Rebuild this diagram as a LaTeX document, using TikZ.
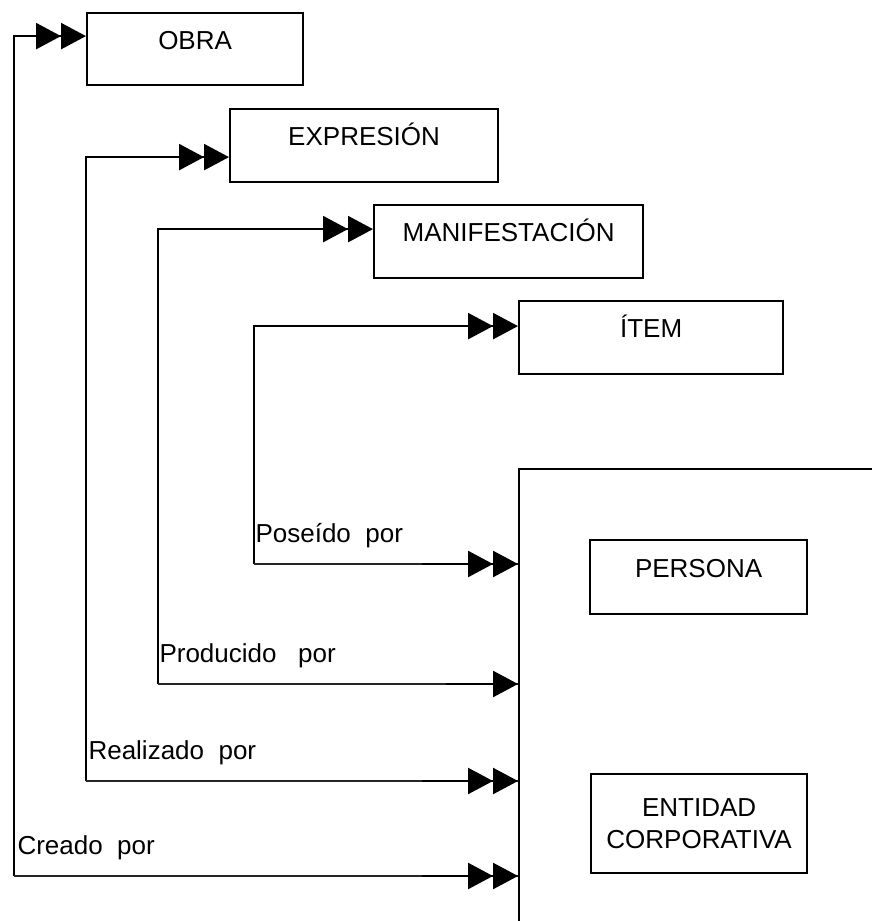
\documentclass[tikz,border=0pt]{standalone}
\usepackage{fontspec}
\setmainfont{Liberation Sans}
\usepackage{xcolor}
\usetikzlibrary{arrows.meta}

\begin{document}
\begin{tikzpicture}[x=1pt, y=-1pt, every node/.style={font=\fontsize{26}{32}\selectfont},
  box/.style={draw=black, line width=2.2pt, anchor=north west, inner sep=0pt, text height=0pt, text depth=0pt, minimum height=73pt},
  wire/.style={line width=2.5pt},
  thinwire/.style={line width=1.2pt, black!85},
  >={Triangle[length=25pt,width=26pt,sep=0pt]}]
\useasboundingbox (0,0) rectangle (872,921);
% entities of group 1
\node[box, minimum width=216pt, minimum height=72pt] (obra) at (86,12) {OBRA};
\node[box, minimum width=268pt] (expresion) at (229,108) {EXPRESIÓN};
\node[box, minimum width=269pt] (manif) at (373,204) {MANIFESTACIÓN};
\node[box, minimum width=264pt] (item) at (518,300) {ÍTEM};
% group 2
\node[draw=black, line width=2.2pt, anchor=north west, minimum width=420pt, minimum height=500pt] (grupo) at (518,468) {};
\node[box, minimum width=217pt, minimum height=74pt] (persona) at (589,539) {PERSONA};
\node[draw=black, line width=2.2pt, anchor=north west, minimum width=216pt, minimum height=99pt, align=center] (entidad) at (590,773) {ENTIDAD\\CORPORATIVA};
% ends of the relations
\coordinate (obraIn) at ([yshift=13pt]obra.west);
\coordinate (expIn) at ([yshift=-11.5pt]expresion.west);
\coordinate (manIn) at ([yshift=12.5pt]manif.west);
\coordinate (itemIn) at ([yshift=11.5pt]item.west);
\coordinate (posIn) at ([yshift=-96pt]grupo.north west);
\coordinate (proIn) at ([yshift=-216pt]grupo.north west);
\coordinate (reaIn) at ([yshift=-313pt]grupo.north west);
\coordinate (creIn) at ([yshift=-408pt]grupo.north west);
\coordinate (kCre) at (14,876);
\coordinate (kRea) at (86,781);
\coordinate (kPro) at (158,684);
\coordinate (kPos) at (254,564);
% Creado por
\draw[wire, <<-] (obraIn) -| (kCre);
\draw[thinwire] (kCre) -- (creIn);
\draw[wire, ->>] ([xshift=-96pt]creIn) -- (creIn);
\node[anchor=base west] (lblCre) at (14,854) {Creado\ \ por};
% Realizado por
\draw[wire, <<-] (expIn) -| (kRea);
\draw[thinwire] (kRea) -- (reaIn);
\draw[wire, ->>] ([xshift=-96pt]reaIn) -- (reaIn);
\node[anchor=base west] (lblRea) at (85,759) {Realizado\ \ por};
% Producido por
\draw[wire, <<-] (manIn) -| (kPro);
\draw[thinwire] (kPro) -- (proIn);
\draw[wire, ->] ([xshift=-72pt]proIn) -- (proIn);
\node[anchor=base west] (lblPro) at (156,662) {Producido\ \ \ por};
% Poseido por
\draw[wire, <<-] (itemIn) -| (kPos);
\draw[thinwire] (kPos) -- (posIn);
\draw[wire, ->>] ([xshift=-96pt]posIn) -- (posIn);
\node[anchor=base west] (lblPos) at (252,542) {Poseído\ \ por};
\end{tikzpicture}
\end{document}
